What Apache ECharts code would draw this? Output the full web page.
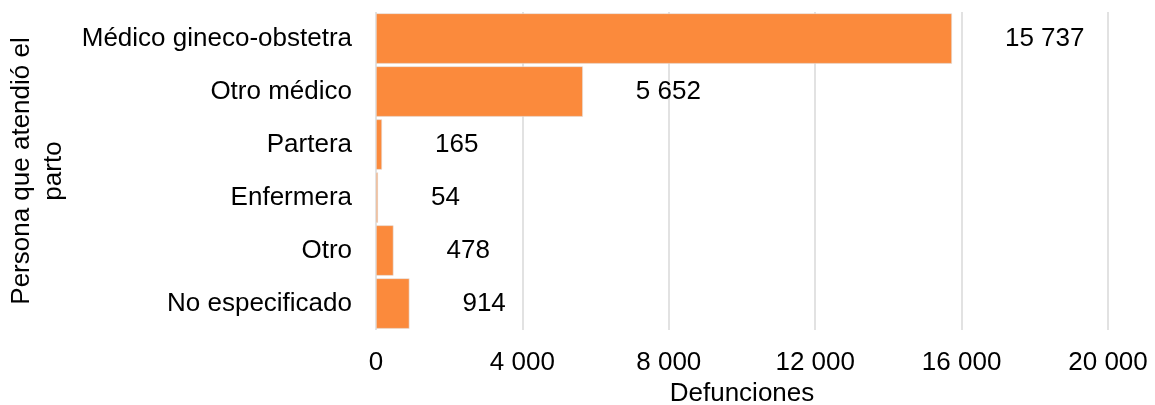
<!DOCTYPE html>
<html>
<head>
<meta charset="utf-8">
<script src="https://cdn.jsdelivr.net/npm/echarts@6/dist/echarts.min.js"></script>
<style>html,body{margin:0;padding:0;background:#fff;}#c{width:1155px;height:405px;}</style>
</head>
<body>
<div id="c"></div>
<script>
const categories = ["Médico gineco-obstetra", "Otro médico", "Partera", "Enfermera", "Otro", "No especificado"];
const values = [15737, 5652, 165, 54, 478, 914];
const xTicks = [0, 4000, 8000, 12000, 16000, 20000];
const xTitle = "Defunciones";
const yTitle = "Persona que atendió el\nparto";

function fmt(v) {
  return String(v).replace(/\B(?=(\d{3})+(?!\d))/g, " ");
}
const FONT = "Liberation Sans, Arial, sans-serif";
const FS = 26;
const chart = echarts.init(document.getElementById('c'), null, {renderer: 'canvas'});
chart.setOption({
  animation: false,
  grid: {left: 376, right: 47, top: 12, bottom: 75, containLabel: false, outerBoundsMode: 'none'},
  xAxis: {
    type: 'value', min: xTicks[0], max: xTicks[xTicks.length - 1], interval: xTicks[1] - xTicks[0],
    name: xTitle, nameLocation: 'middle', nameGap: 47,
    nameTextStyle: {fontSize: FS, color: '#000', fontFamily: FONT},
    axisLine: {show: false}, axisTick: {show: false},
    axisLabel: {fontSize: FS, color: '#000', fontFamily: FONT, margin: 20, formatter: v => fmt(v)},
    splitLine: {show: true, lineStyle: {color: '#d9d9d9', width: 1.5}}
  },
  yAxis: {
    type: 'category', data: categories, inverse: true,
    name: yTitle, nameLocation: 'middle', nameGap: 306, nameRotate: 90,
    nameTextStyle: {fontSize: FS, color: '#000', fontFamily: FONT, lineHeight: 32, align: 'center'},
    axisLine: {show: false}, axisTick: {show: false},
    axisLabel: {fontSize: FS, color: '#000', fontFamily: FONT, margin: 24}
  },
  series: [{
    type: 'bar', data: values, barCategoryGap: '5%',
    itemStyle: {color: '#FB8A3C', borderColor: '#e3e3e3', borderWidth: 0.6},
    label: {show: true, position: 'right', distance: 53, fontSize: FS, color: '#000', fontFamily: FONT,
      formatter: p => fmt(p.value)}
  }]
});
</script>
</body>
</html>
